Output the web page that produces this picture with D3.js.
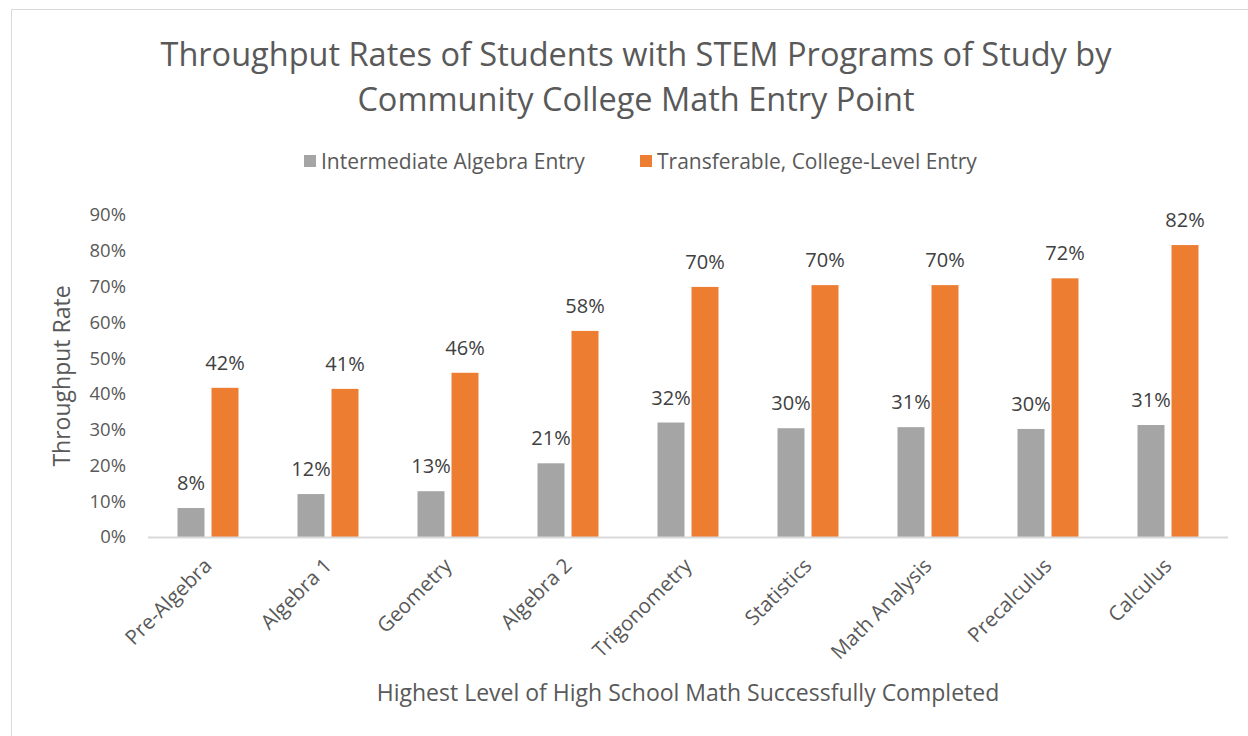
<!DOCTYPE html>
<html>
<head>
<meta charset="utf-8">
<script src="https://cdn.jsdelivr.net/npm/d3@7"></script>
<style>
  body { margin: 0; background: #fff; }
  text { font-family: "Open Sans", sans-serif; fill: #595959; }
</style>
</head>
<body>
<div id="chart"></div>
<script>
// data
const categories = ["Pre-Algebra", "Algebra 1", "Geometry", "Algebra 2", "Trigonometry",
                    "Statistics", "Math Analysis", "Precalculus", "Calculus"];
const seriesNames = ["Intermediate Algebra Entry", "Transferable, College-Level Entry"];
const intermediate = [0.081, 0.120, 0.128, 0.206, 0.320, 0.304, 0.307, 0.302, 0.313];
const transferable = [0.417, 0.414, 0.459, 0.576, 0.699, 0.704, 0.704, 0.723, 0.816];
const yTicks = [0, 0.1, 0.2, 0.3, 0.4, 0.5, 0.6, 0.7, 0.8, 0.9];
const colors = ["#a5a5a5", "#ed7d31"];

const W = 1248, H = 736;
const margin = {left: 148, right: 20, top: 215, bottom: 199};

const svg = d3.select("#chart").append("svg")
    .attr("width", W).attr("height", H);

// chart frame
svg.append("rect")
    .attr("x", 11.5).attr("y", 9.5)
    .attr("width", W + 20).attr("height", H + 20)
    .attr("fill", "none").attr("stroke", "#d9d9d9").attr("stroke-width", 1);

const x = d3.scaleBand().domain(categories)
    .range([margin.left, W - margin.right]).paddingInner(0).paddingOuter(0);
const y = d3.scaleLinear().domain([0, 0.9]).range([H - margin.bottom, margin.top]);

const barW = 27, gap = 7;

// title
const title = svg.append("text")
    .attr("text-anchor", "middle")
    .style("font-size", "32.5px");
title.append("tspan").attr("x", 636).attr("y", 66)
    .text("Throughput Rates of Students with STEM Programs of Study by");
title.append("tspan").attr("x", 636).attr("y", 111)
    .text("Community College Math Entry Point");

// legend
const legendItems = [{name: seriesNames[0], x: 304}, {name: seriesNames[1], x: 640}];
legendItems.forEach(function(item, i) {
    svg.append("rect")
        .attr("x", item.x).attr("y", 155)
        .attr("width", 12).attr("height", 12)
        .attr("fill", colors[i]);
    svg.append("text")
        .attr("x", item.x + 17).attr("y", 168.5)
        .style("font-size", "21px")
        .text(item.name);
});

// y axis labels
const yAxis = d3.axisLeft(y).tickValues(yTicks).tickFormat(d3.format(".0%")).tickSize(0).tickPadding(22);
const yg = svg.append("g").attr("transform", "translate(" + margin.left + ",0)").call(yAxis);
yg.select(".domain").remove();
yg.selectAll("text").style("font-size", "18.5px").style("fill", "#595959")
    .style("font-family", "'Open Sans', sans-serif");

svg.append("text")
    .attr("transform", "translate(70," + y(0.45) + ") rotate(-90)")
    .attr("text-anchor", "middle")
    .style("font-size", "23px")
    .text("Throughput Rate");

// bars
const series = [intermediate, transferable];
series.forEach(function(values, s) {
    const offset = s === 0 ? -(gap / 2 + barW) : gap / 2;
    const g = svg.append("g");
    g.selectAll("rect").data(values).enter().append("rect")
        .attr("x", (d, i) => x(categories[i]) + x.bandwidth() / 2 + offset)
        .attr("y", d => y(d))
        .attr("width", barW)
        .attr("height", d => y(0) - y(d))
        .attr("fill", colors[s]);
    g.selectAll("text").data(values).enter().append("text")
        .attr("x", (d, i) => x(categories[i]) + x.bandwidth() / 2 + offset + barW / 2)
        .attr("y", d => y(d) - 18)
        .attr("text-anchor", "middle")
        .style("font-size", "20px")
        .style("fill", "#404040")
        .text(d => Math.round(d * 100) + "%");
});

// x axis
svg.append("line")
    .attr("x1", x.range()[0]).attr("x2", x.range()[1])
    .attr("y1", y(0) + 0.5).attr("y2", y(0) + 0.5)
    .attr("stroke", "#d9d9d9").attr("stroke-width", 2);

const xAxis = d3.axisBottom(x).tickSize(0).tickPadding(0);
const xg = svg.append("g").attr("transform", "translate(0," + y(0) + ")").call(xAxis);
xg.select(".domain").remove();
xg.selectAll("text")
    .style("font-size", "20.5px").style("fill", "#595959")
    .style("font-family", "'Open Sans', sans-serif")
    .attr("text-anchor", "end")
    .attr("dy", null)
    .attr("transform", "translate(5,30) rotate(-45)");

svg.append("text")
    .attr("x", 688).attr("y", 701)
    .attr("text-anchor", "middle")
    .style("font-size", "23px")
    .text("Highest Level of High School Math Successfully Completed");
</script>
</body>
</html>
